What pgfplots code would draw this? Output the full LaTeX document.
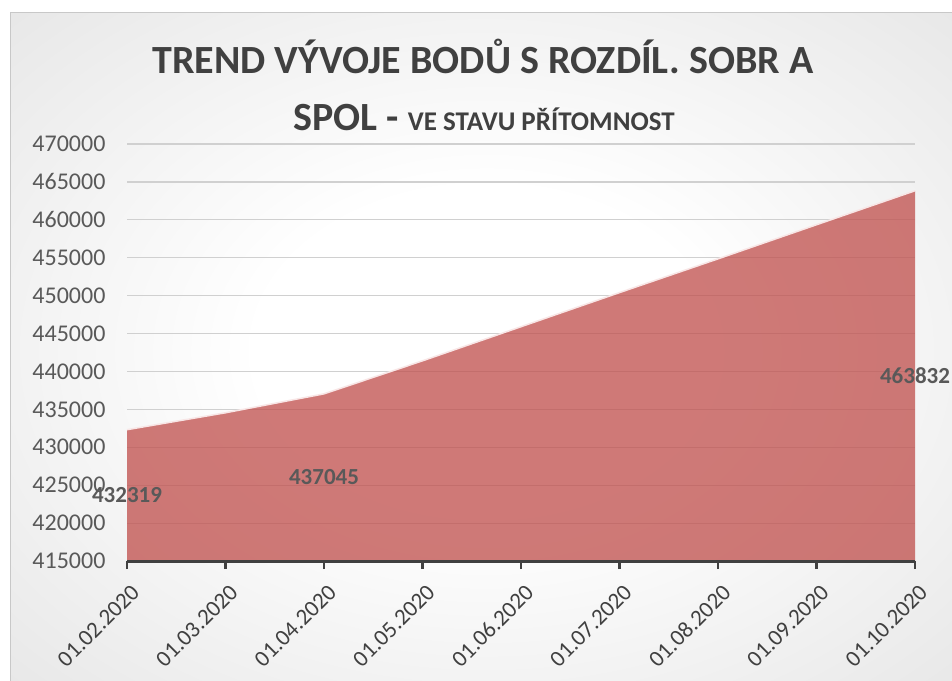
\documentclass[border=0pt]{standalone}
\usepackage{pgfplots}
\pgfplotsset{compat=1.18}
\usepackage{fontspec}
\setmainfont{Carlito}
\definecolor{titlegray}{RGB}{64,64,64}
\definecolor{labelgray}{RGB}{89,89,89}
\definecolor{gridgray}{RGB}{208,208,208}
\definecolor{areared}{RGB}{192,80,77}
\definecolor{edgepink}{RGB}{248,230,230}
\definecolor{bgouter}{RGB}{196,196,196}
\definecolor{framegray}{RGB}{200,200,200}
\pgfdeclareradialshading{bgshade}{\pgfpoint{0bp}{0bp}}{color(0bp)=(white); color(12bp)=(white); color(71bp)=(bgouter)}
\begin{document}
\begin{tikzpicture}
\useasboundingbox (0,0) rectangle (952pt,-680pt);
\fill[white] (0,0) rectangle (952pt,-680pt);
\shade[shading=bgshade] (10pt,-12pt) rectangle (962pt,-690pt);
\draw[framegray, line width=1pt] (10pt,-690pt) -- (10pt,-12pt) -- (962pt,-12pt);
\node[anchor=base, font=\fontsize{40}{42}\selectfont\bfseries, text=titlegray, inner sep=0pt] at (483pt,-73pt) {TREND VÝVOJE BODŮ S ROZDÍL. SOBR A};
\node[anchor=base, font=\fontsize{40}{42}\selectfont\bfseries, text=titlegray, inner sep=0pt] at (484pt,-130pt) {SPOL - {\fontsize{27}{29}\selectfont VE STAVU PŘÍTOMNOST}};
\begin{axis}[
  at={(127pt,-561pt)}, anchor=south west,
  scale only axis, width=788pt, height=417pt,
  xmin=0, xmax=8, ymin=415000, ymax=470000,
  clip=false,
  axis line style={draw=none},
  xtick={0,1,2,3,4,5,6,7,8},
  xticklabels={01.02.2020,01.03.2020,01.04.2020,01.05.2020,01.06.2020,01.07.2020,01.08.2020,01.09.2020,01.10.2020},
  ytick={415000,420000,425000,430000,435000,440000,445000,450000,455000,460000,465000,470000},
  scaled y ticks=false,
  xtick pos=bottom, xtick align=outside, major tick length=8pt,
  xtick style={draw=titlegray, line width=2.5pt},
  ytick style={draw=none},
  ymajorgrids, grid style={gridgray, line width=1.2pt},
  yticklabel style={font=\fontsize{24}{24}\selectfont, text=labelgray, xshift=-18pt,
    /pgf/number format/1000 sep={}, /pgf/number format/fixed, /pgf/number format/precision=0,
    /pgf/number format/assume math mode=true},
  xticklabel shift=14pt,
  xticklabel style={font=\fontsize{23}{23}\selectfont, text=titlegray, inner sep=0pt, xshift=3pt, rotate=45, anchor=north east},
]
\addplot[fill=areared, fill opacity=0.76, draw=none] coordinates {(0,415000) (0,432319) (1,434550) (2,437045) (3,441400) (4,445900) (5,450400) (6,454850) (7,459350) (8,463832) (8,415000)};
\addplot[edgepink, line width=1.5pt] coordinates {(0,432319) (1,434550) (2,437045) (3,441400) (4,445900) (5,450400) (6,454850) (7,459350) (8,463832)};
\addplot[titlegray, line width=3pt] coordinates {(0,415000) (8,415000)};
\addplot[draw=none, mark=none, nodes near coords, point meta=explicit symbolic,
  nodes near coords style={anchor=center, font=\fontsize{23}{23}\selectfont\bfseries, text=labelgray}]
  table[meta=lab] {
x y lab
0 423660 432319
2 426022 437045
8 439416 463832
};
\end{axis}
\end{tikzpicture}
\end{document}
